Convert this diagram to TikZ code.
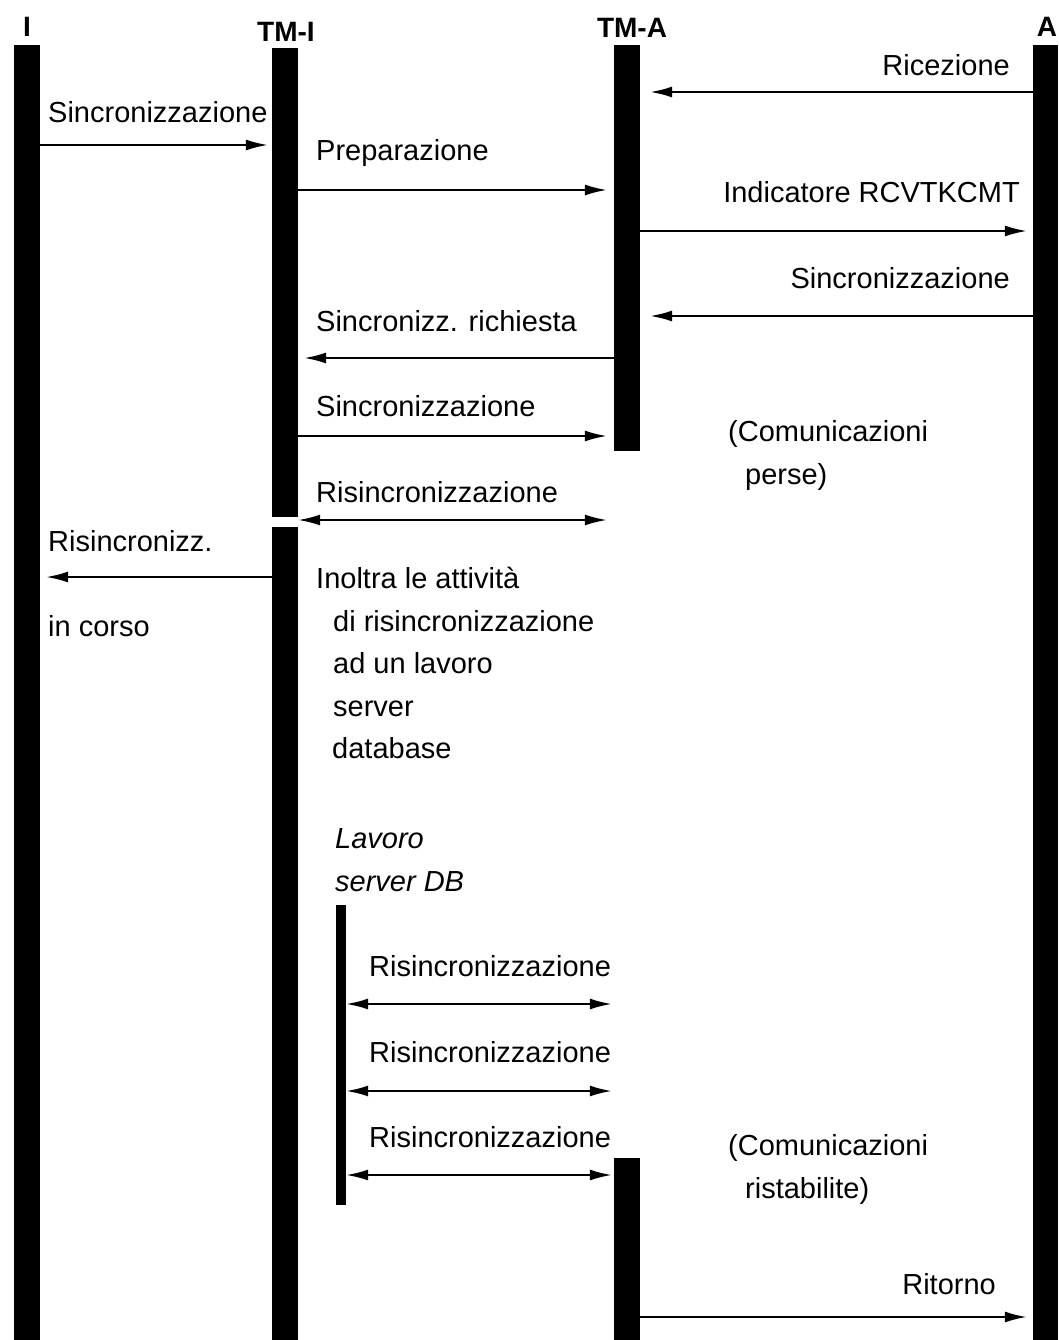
\documentclass[tikz,border=0pt]{standalone}
\usepackage{fontspec}
\setmainfont{Liberation Sans}
\usetikzlibrary{arrows.meta}
\begin{document}
\begin{tikzpicture}[x=1pt,y=-1pt,
  bar/.style={fill=black,draw=none,inner sep=0pt,minimum width=#1,anchor=north},
  head/.style={font=\fontsize{28}{32}\selectfont\bfseries,inner sep=0pt},
  lbl/.style={font=\fontsize{29}{34}\selectfont,inner sep=0pt,anchor=base west},
  rlbl/.style={lbl,anchor=base east},
  ilbl/.style={lbl,font=\fontsize{29}{34}\selectfont\itshape},
  msg/.style={line width=2pt,-{Latex[length=22,width=11]}},
  dmsg/.style={line width=2pt,{Latex[length=22,width=11]}-{Latex[length=22,width=11]}}]
\useasboundingbox (0,0) rectangle (1058,1340);

% participant headings
\node[head] (hI)   at (27,27)  {I};
\node[head] (hTMI) at (286,32) {TM-I};
\node[head] (hTMA) at (632,28) {TM-A};
\node[head] (hA)   at (1047,27) {A};

% activation bars
\path (27,45)   node[bar=26,minimum height=1295] (I) {};
\path (285,48)  node[bar=26,minimum height=469]  (TMI1) {};
\path (285,527) node[bar=26,minimum height=813]  (TMI2) {};
\path (627,45)  node[bar=26,minimum height=406]  (TMA1) {};
\path (627,1158) node[bar=26,minimum height=182] (TMA2) {};
\path (1045.5,45) node[bar=25,minimum height=1295] (A) {};
\path (341,905) node[bar=10,minimum height=300]  (DB) {};

% messages
\coordinate (y1) at (0,92);
\draw[msg] (A.west |- y1) -- ([xshift=10]TMA1.east |- y1);
\node[rlbl] (l1) at (1010,76) {Ricezione};

\coordinate (y2) at (0,145);
\draw[msg] (I.east |- y2) -- ([xshift=-4]TMI1.west |- y2);
\node[lbl] (l2) at (48,123) {Sincronizzazione};

\coordinate (y3) at (0,190);
\draw[msg] (TMI1.east |- y3) -- ([xshift=-7]TMA1.west |- y3);
\node[lbl] (l3) at (316,161) {Preparazione};

\coordinate (y4) at (0,231);
\draw[msg] (TMA1.east |- y4) -- ([xshift=-6]A.west |- y4);
\node[rlbl] (l4) at (1020,203) {Indicatore RCVTKCMT};

\coordinate (y5) at (0,316);
\draw[msg] (A.west |- y5) -- ([xshift=10]TMA1.east |- y5);
\node[rlbl] (l5) at (1010,288) {Sincronizzazione};

\coordinate (y6) at (0,358);
\draw[msg] (TMA1.west |- y6) -- ([xshift=6]TMI1.east |- y6);
\node[lbl] (l6) at (316,331) {Sincronizz. richiesta};

\coordinate (y7) at (0,436);
\draw[msg] (TMI1.east |- y7) -- ([xshift=-7]TMA1.west |- y7);
\node[lbl] (l7) at (316,416) {Sincronizzazione};

\node[lbl] (c1) at (728,441) {(Comunicazioni};
\node[lbl] (c2) at (745,484) {perse)};

\coordinate (y8) at (0,520);
\draw[dmsg] (TMI1.east |- y8) -- ([xshift=-7]TMA1.west |- y8);
\node[lbl] (l8) at (316,502) {Risincronizzazione};

\coordinate (y9) at (0,577);
\draw[msg] (TMI2.west |- y9) -- ([xshift=6]I.east |- y9);
\node[lbl] (l9) at (48,551) {Risincronizz.};
\node[lbl] (l9b) at (48,636) {in corso};

% forwarding note
\node[lbl] (n1) at (316,588) {Inoltra le attività};
\node[lbl] (n2) at (333,631) {di risincronizzazione};
\node[lbl] (n3) at (333,673) {ad un lavoro};
\node[lbl] (n4) at (333,716) {server};
\node[lbl] (n5) at (332,758) {database};

\node[ilbl] (d1) at (335,848) {Lavoro};
\node[ilbl] (d2) at (335,891) {server DB};

% resynchronisation exchanges from the DB server job
\foreach \yy/\ly [count=\k] in {1004/976,1091/1062,1175/1147}{
  \coordinate (r\k) at (0,\yy);
  \draw[dmsg] (DB.east |- r\k) -- ([xshift=-2]TMA1.west |- r\k);
  \node[lbl] (rl\k) at (369,\ly) {Risincronizzazione};
}

\node[lbl] (c3) at (728,1155) {(Comunicazioni};
\node[lbl] (c4) at (745,1198) {ristabilite)};

\coordinate (y10) at (0,1317);
\draw[msg] (TMA2.east |- y10) -- ([xshift=-6]A.west |- y10);
\node[rlbl] (l10) at (996,1294) {Ritorno};
\end{tikzpicture}
\end{document}
